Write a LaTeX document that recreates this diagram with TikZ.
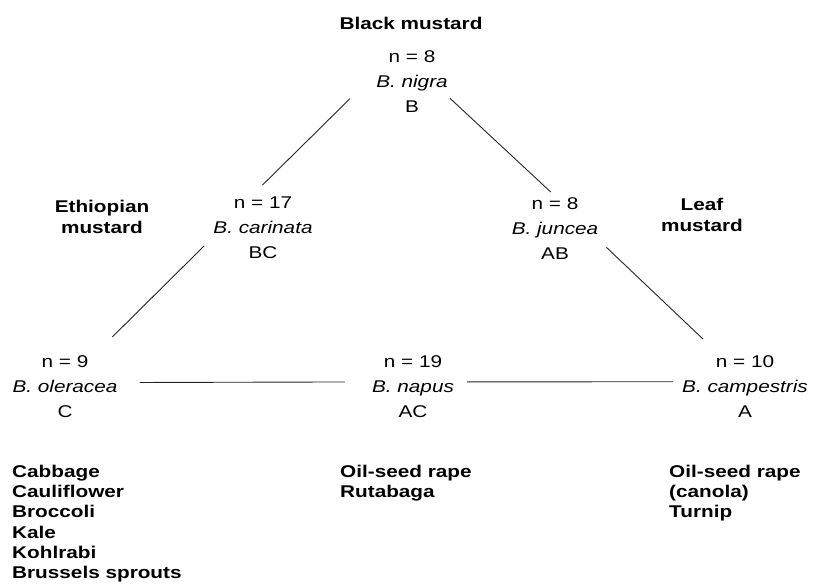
\documentclass[tikz,border=0pt]{standalone}
\usepackage{fontspec}
\setmainfont[FakeStretch=1.22]{Liberation Sans}
\usepackage{tikz}
\usetikzlibrary{positioning}

\begin{document}
\begin{tikzpicture}[x=1pt, y=-1pt,
	species/.style={align=center, anchor=north, inner sep=0pt, font=\fontsize{17}{25}\selectfont},
	common/.style={align=center, anchor=north, inner sep=0pt, font=\fontsize{17}{21}\selectfont\bfseries},
	crops/.style={align=left, anchor=north west, inner sep=0pt, font=\fontsize{17}{20.2}\selectfont\bfseries},
	link/.style={line width=0.9pt, black!85}]
	\useasboundingbox (0,0) rectangle (813,586);
	
	% ===================== 三角形的位置 =====================
	\path
	(412,50)  coordinate (p_B)
	(263,197) coordinate (p_BC)
	(555,197) coordinate (p_AB)
	(65,355)  coordinate (p_C)
	(413,355) coordinate (p_AC)
	(745,355) coordinate (p_A);
	
	% 物种
	\node[species] (B)  at (p_B)  {n = 8\\\textit{B. nigra}\\B};
	\node[species] (BC) at (p_BC) {n = 17\\\textit{B. carinata}\\BC};
	\node[species] (AB) at (p_AB) {n = 8\\\textit{B. juncea}\\AB};
	\node[species] (C)  at (p_C)  {n = 9\\\textit{B. oleracea}\\C};
	\node[species] (AC) at (p_AC) {n = 19\\\textit{B. napus}\\AC};
	\node[species] (A)  at (p_A)  {n = 10\\\textit{B. campestris}\\A};
	
	% 俗名
	\node[common] (black) at (411,17)  {Black mustard};
	\node[common] (ethio) at (102,200) {Ethiopian\\mustard};
	\node[common] (leaf)  at (702,198) {Leaf\\mustard};
	
	% 黑色连线
	\draw[link, shorten <=36.8pt, shorten >=17pt]   (B.167) -- (BC.112);
	\draw[link, shorten <=2.8pt, shorten >=7.3pt]   (B.337) -- (AB.88);
	\draw[link, shorten <=12.7pt, shorten >=25.6pt] (BC.190) -- (C.47);
	\draw[link, shorten <=11.1pt, shorten >=23.1pt] (AB.345) -- (A.129);
	\draw[link, shorten <=22pt, shorten >=27pt]     (C.4) -- (AC.174);
	\draw[link, shorten <=13pt, shorten >=9pt]      (AC.6) -- (A.176);
	
	% ===================== 作物 =====================
	\node[crops] (veg_C)  at (12,465)  {Cabbage\\Cauliflower\\Broccoli\\Kale\\Kohlrabi\\Brussels sprouts};
	\node[crops] (veg_AC) at (340,465) {Oil-seed rape\\Rutabaga};
	\node[crops] (veg_A)  at (669,465) {Oil-seed rape\\(canola)\\Turnip};
\end{tikzpicture}
\end{document}
